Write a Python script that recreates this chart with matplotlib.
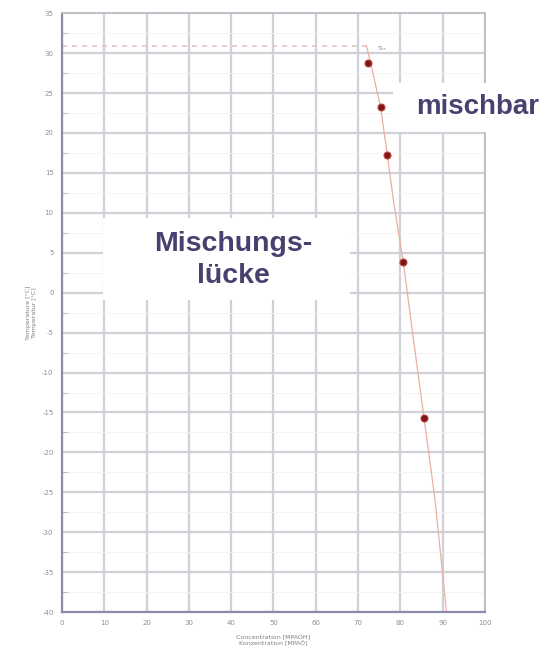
import matplotlib.pyplot as plt
from matplotlib.patches import Rectangle
from matplotlib.ticker import MultipleLocator

plt.rcParams['axes.unicode_minus'] = False

# measured points (concentration, temperature)
conc = [72.4, 75.3, 76.9, 80.7, 85.6]
temp = [28.8, 23.3, 17.3, 3.8, -15.7]

# hand-drawn boundary curve
curve_conc = [72.0, 73.5, 75.3, 76.9, 78.5, 80.7, 83.0, 85.6, 88.2, 90.9]
curve_temp = [30.9, 27.5, 23.3, 17.3, 11.0, 3.8, -5.5, -15.7, -26.0, -40.0]

t_crit = 30.9

xticks = list(range(0, 101, 10))
yticks = list(range(-40, 36, 5))

text_col = '#4a4070'
grid_col = '#d0d0d8'

fig = plt.figure(figsize=(5.5, 6.61), dpi=100)
ax = fig.add_axes([0.1127, 0.074, 0.7691, 0.906])

ax.set_xlim(0, 100)
ax.set_ylim(-40, 35)
ax.set_xticks(xticks)
ax.set_yticks(yticks)
ax.yaxis.set_minor_locator(MultipleLocator(2.5))
ax.grid(True, which='major', color=grid_col, lw=1.6)
ax.grid(True, which='minor', axis='y', color='#f2f2f5', lw=0.6)
ax.set_axisbelow(True)
ax.tick_params(which='major', length=0, labelsize=5, labelcolor='#909090', pad=6)
ax.tick_params(which='minor', direction='in', length=4, color='#b0b0c0')

for s in ['left', 'bottom']:
    ax.spines[s].set_color('#8c8ca8')
    ax.spines[s].set_linewidth(1.6)
for s in ['top', 'right']:
    ax.spines[s].set_color('#c0c0c8')
    ax.spines[s].set_linewidth(1.4)

# critical temperature
ax.plot([0, curve_conc[0]], [t_crit, t_crit], ls=(0, (3, 3)), color='#e0c8c8', lw=1.2)
ax.text(curve_conc[0] + 2.5, t_crit - 0.3, 'T$_{kr}$', fontsize=4.5, color='#808080',
        ha='left', va='center')

ax.plot(curve_conc, curve_temp, color='#eab0a0', lw=0.9)
ax.plot(conc, temp, 'o', ms=5, color='#7a1818', mec='#c04040', mew=0.8)

ax.set_xlabel('Concentration [MPAOH]\nKonzentration [MPAÖ]', fontsize=4.5,
              color='#808080', labelpad=6)
ax.set_ylabel('Temperature [°C]\nTemperatur [°C]', fontsize=4.5,
              color='#808080', labelpad=4)

# region labels on white boxes
fig.add_artist(Rectangle((0.187, 0.546), 0.449, 0.124, transform=fig.transFigure,
                         fc='white', ec='none', zorder=5))
fig.add_artist(Rectangle((0.7145, 0.8003), 0.2855, 0.0741, transform=fig.transFigure,
                         fc='white', ec='none', zorder=5))
fig.text(0.424, 0.606, 'Mischungs-\nlücke', ha='center', va='center', fontsize=20.5,
         family='Liberation Sans', weight='bold', color=text_col, linespacing=1.3,
         zorder=6)
fig.text(0.869, 0.838, 'mischbar', ha='center', va='center', fontsize=20,
         family='Liberation Sans', weight='bold', color=text_col, zorder=6)

plt.savefig('out.png', dpi=100)
